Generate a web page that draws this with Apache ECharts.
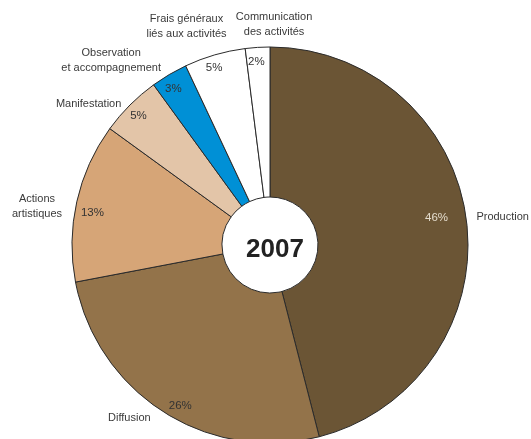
<!DOCTYPE html>
<html>
<head>
<meta charset="utf-8">
<style>
  html, body { margin: 0; padding: 0; background: #ffffff; }
  #chart { width: 531px; height: 439px; }
</style>
<script src="https://cdn.jsdelivr.net/npm/echarts@6/dist/echarts.min.js"></script>
</head>
<body>
<div id="chart"></div>
<script>
// Budget breakdown for 2007, clockwise from the top
const categories = [
  'Production',
  'Diffusion',
  'Actions\nartistiques',
  'Manifestation',
  'Observation\net accompagnement',
  'Frais généraux\nliés aux activités',
  'Communication\ndes activités'
];
const shares = [46, 26, 13, 5, 3, 5, 2];
const yearLabel = '2007';

const sliceColors = ['#6b5535', '#93734a', '#d6a577', '#e3c5a8', '#0090d6', '#ffffff', '#ffffff'];
const pctColors = ['#e4dccd', '#333333', '#333333', '#333333', '#333333', '#333333', '#333333'];

// Small per-label adjustments of the automatic outside placement
const nameNudge = [
  { dx: -3, dy: -2 },
  { dx: -4, dy: -1 },
  { align: 'center', dx: -27, dy: 6 },
  { dx: 2, dy: 5 },
  { align: 'center', dx: -49, dy: -7 },
  { align: 'center', dx: -21, dy: -21 },
  { align: 'center', dx: 22, dy: -15 }
];
const pctNudge = [
  { dx: -18, dy: -4 },
  { dx: 10, dy: 4 },
  { dx: 4, dy: 8 },
  { dy: 2 },
  { dx: -2, dy: 4 },
  { dx: -4, dy: 1 },
  { dx: -2, dy: 2 }
];

const font = '"Liberation Sans", Arial, sans-serif';
const chart = echarts.init(document.getElementById('chart'), null, { renderer: 'canvas' });

const slices = categories.map((name, i) => ({
  name: name,
  value: shares[i],
  itemStyle: { color: sliceColors[i] }
}));

const pctSlices = categories.map((name, i) => ({
  name: name,
  value: shares[i],
  label: { color: pctColors[i] }
}));

chart.setOption({
  animation: false,
  backgroundColor: '#ffffff',
  title: {
    text: yearLabel,
    left: 270,
    top: 245,
    textAlign: 'center',
    textVerticalAlign: 'middle',
    textStyle: { fontFamily: font, fontSize: 26, fontWeight: 'bold', color: '#222222' }
  },
  series: [
    {
      type: 'pie',
      center: [270, 245],
      radius: [48, 198],
      startAngle: 90,
      clockwise: true,
      avoidLabelOverlap: false,
      minShowLabelAngle: 0,
      itemStyle: { borderColor: '#2b2b2b', borderWidth: 1 },
      label: {
        show: true,
        position: 'outside',
        formatter: '{b}',
        fontFamily: font,
        fontSize: 11,
        lineHeight: 15,
        color: '#3a3a3a',
        distanceToLabelLine: 5
      },
      labelLine: { show: false, length: 8, length2: 0 },
      labelLayout: function (p) { return nameNudge[p.dataIndex] || {}; },
      emphasis: { disabled: true },
      data: slices
    },
    {
      type: 'pie',
      center: [270, 245],
      radius: [168, 198],
      startAngle: 90,
      clockwise: true,
      silent: true,
      avoidLabelOverlap: false,
      minShowLabelAngle: 0,
      itemStyle: { color: 'rgba(0,0,0,0)', borderWidth: 0 },
      label: {
        show: true,
        position: 'inside',
        formatter: '{c}%',
        fontFamily: font,
        fontSize: 11.5
      },
      labelLine: { show: false },
      labelLayout: function (p) { return pctNudge[p.dataIndex] || {}; },
      emphasis: { disabled: true },
      data: pctSlices
    }
  ]
});
</script>
</body>
</html>
